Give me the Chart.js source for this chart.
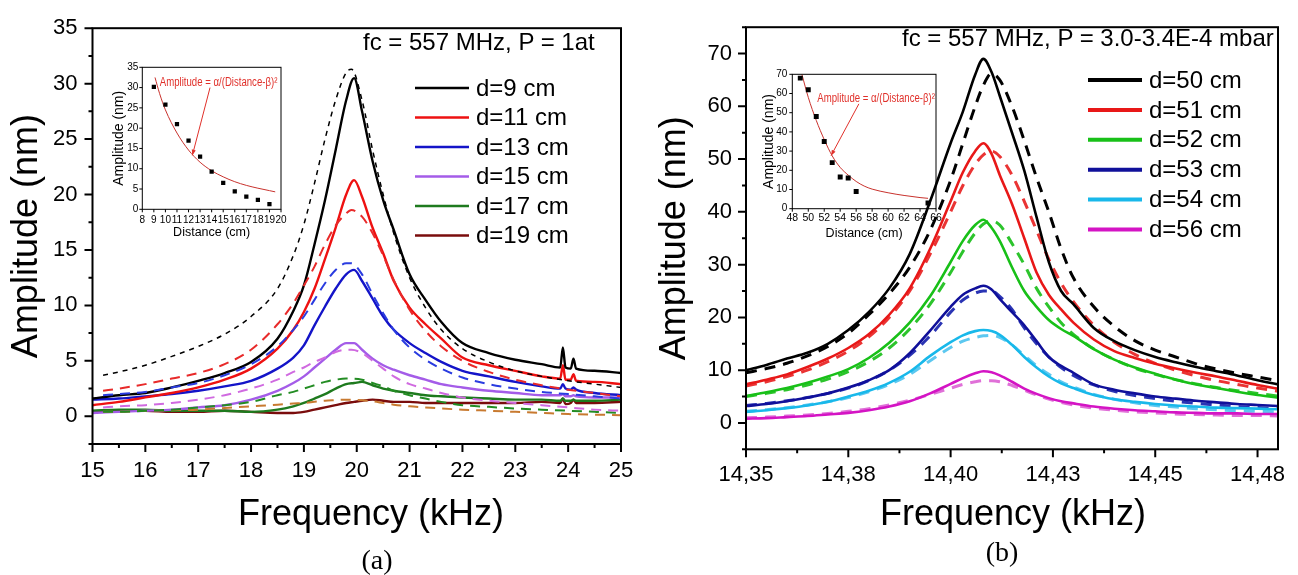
<!DOCTYPE html>
<html>
<head>
<meta charset="utf-8">
<script src="https://cdn.jsdelivr.net/npm/chart.js@4.4.1/dist/chart.umd.min.js"></script>
<style>
  html, body { margin: 0; padding: 0; background: #fff; }
  #wrap { position: relative; width: 1298px; height: 575px; overflow: hidden; font-family: 'Liberation Sans', Arial, sans-serif; }
  canvas { position: absolute; }
  .lbl { position: absolute; white-space: nowrap; color: #000; line-height: 1; }
</style>
</head>
<body>
<div id="wrap">
  <canvas id="mainA" width="650" height="575" style="left:0;top:0"></canvas>
  <canvas id="mainB" width="648" height="575" style="left:650px;top:0"></canvas>
  <canvas id="insetA" width="200" height="190" style="left:95px;top:55px"></canvas>
  <canvas id="insetB" width="205" height="185" style="left:745px;top:60px"></canvas>

  <div class="lbl" style="left:363px;top:42px;font-size:24px;transform:translateY(-50%)">fc = 557 MHz, P = 1at</div>
  <div class="lbl" style="left:902px;top:38px;font-size:24px;transform:translateY(-50%)">fc = 557 MHz, P = 3.0-3.4E-4 mbar</div>
  <div class="lbl" style="left:371px;top:513px;font-size:36px;transform:translate(-50%,-50%)">Frequency (kHz)</div>
  <div class="lbl" style="left:1013px;top:513px;font-size:36px;transform:translate(-50%,-50%)">Frequency (kHz)</div>
  <div class="lbl" style="left:377px;top:560px;font-size:28px;font-family:'Liberation Serif','Times New Roman',serif;transform:translate(-50%,-50%)">(a)</div>
  <div class="lbl" style="left:1002px;top:552px;font-size:28px;font-family:'Liberation Serif','Times New Roman',serif;transform:translate(-50%,-50%)">(b)</div>
</div>

<script>
// ---------- panel (a): fc = 557 MHz, P = 1 at ----------
var freqA = [15, 15.5, 16, 16.5, 17, 17.5, 18, 18.5, 18.8, 19.0, 19.2, 19.4, 19.6, 19.8, 19.95, 20.1, 20.3, 20.5, 20.7,
             21.0, 21.3, 21.6, 22, 22.5, 23, 23.5, 23.85, 23.9, 23.95, 24.05, 24.1, 24.15, 24.5, 25];
var ampA9  = [1.6, 1.9, 2.1, 2.6, 3.2, 3.9, 4.9, 7.0, 9.5, 11.8, 15.5, 19.5, 24.0, 28.5, 30.5, 27.5, 23.0, 19.5, 16.8,
              12.8, 10.5, 8.5, 6.6, 5.7, 5.1, 4.7, 4.4, 6.2, 4.4, 4.3, 5.2, 4.3, 4.1, 3.9];
var ampA11 = [1.0, 1.3, 1.7, 2.1, 2.6, 3.3, 4.3, 6.1, 7.8, 9.4, 11.5, 14.2, 17.0, 20.0, 21.3, 19.8, 17.0, 14.7, 12.2,
              9.8, 8.3, 7.0, 5.3, 4.6, 4.1, 3.6, 3.4, 4.6, 3.3, 3.3, 3.8, 3.2, 3.1, 2.9];
var ampA13 = [1.5, 1.6, 1.8, 2.0, 2.3, 2.7, 3.2, 4.3, 5.3, 6.4, 8.2, 9.9, 11.5, 12.8, 13.2, 12.2, 10.6, 9.0, 7.8,
              6.6, 5.7, 4.9, 4.1, 3.6, 3.1, 2.7, 2.5, 2.9, 2.5, 2.4, 2.6, 2.4, 2.1, 1.9];
var ampA15 = [0.3, 0.4, 0.5, 0.6, 0.8, 1.0, 1.5, 2.3, 3.0, 3.6, 4.4, 5.2, 6.0, 6.6, 6.6, 6.0, 5.2, 4.6, 4.2,
              3.7, 3.3, 2.9, 2.6, 2.3, 2.1, 1.9, 1.9, 2.0, 1.8, 1.8, 1.9, 1.8, 1.7, 1.7];
var ampA17 = [0.5, 0.6, 0.6, 0.5, 0.5, 0.5, 0.4, 0.6, 0.9, 1.2, 1.6, 2.0, 2.5, 2.9, 3.0, 3.1, 2.8, 2.5, 2.3,
              2.1, 1.9, 1.8, 1.7, 1.6, 1.5, 1.5, 1.4, 1.6, 1.4, 1.4, 1.5, 1.4, 1.4, 1.5];
var ampA19 = [0.4, 0.5, 0.5, 0.4, 0.4, 0.5, 0.4, 0.3, 0.3, 0.4, 0.6, 0.8, 1.0, 1.2, 1.3, 1.4, 1.5, 1.4, 1.3,
              1.3, 1.2, 1.2, 1.2, 1.2, 1.2, 1.3, 1.2, 1.6, 1.1, 1.2, 1.5, 1.2, 1.2, 1.3];

var fitFreqA = [15.2, 15.5, 16, 16.5, 17, 17.5, 18, 18.5, 18.8, 19.0, 19.2, 19.4, 19.6, 19.8, 19.9, 20.1, 20.3, 20.5,
                20.7, 21.0, 21.3, 21.6, 22, 22.5, 23, 23.5, 24, 24.5, 25];
var fitA9  = [3.7, 4.0, 4.6, 5.4, 6.3, 7.4, 9.0, 11.5, 14.5, 17.3, 21.0, 25.0, 28.5, 31.0, 31.3, 28.5, 24.0, 20.0,
              16.5, 12.5, 9.8, 7.8, 6.1, 4.9, 4.1, 3.6, 3.2, 2.9, 2.6];
var fitA11 = [2.3, 2.5, 2.9, 3.4, 3.9, 4.7, 6.0, 8.3, 10.2, 11.8, 13.5, 15.5, 17.2, 18.3, 18.6, 18.0, 16.5, 14.5,
              12.3, 9.6, 7.7, 6.3, 5.0, 4.0, 3.3, 2.8, 2.4, 2.1, 1.8];
var fitA13 = [1.9, 2.0, 2.2, 2.6, 3.0, 3.7, 4.7, 6.3, 7.8, 9.0, 10.5, 12.0, 13.2, 13.8, 13.8, 12.8, 11.0, 9.3,
              7.8, 6.2, 5.1, 4.3, 3.5, 2.9, 2.5, 2.2, 2.0, 1.8, 1.6];
var fitA15 = [0.8, 0.9, 1.0, 1.2, 1.5, 1.9, 2.5, 3.3, 4.0, 4.4, 4.9, 5.3, 5.8, 6.0, 6.0, 5.7, 5.0, 4.3,
              3.6, 2.9, 2.5, 2.1, 1.7, 1.4, 1.2, 1.0, 0.8, 0.6, 0.5];
var fitA17 = [0.4, 0.4, 0.5, 0.6, 0.8, 1.0, 1.3, 1.9, 2.2, 2.5, 2.8, 3.1, 3.3, 3.4, 3.4, 3.3, 3.0, 2.7,
              2.3, 1.9, 1.6, 1.3, 1.0, 0.85, 0.7, 0.6, 0.5, 0.4, 0.3];
var fitA19 = [0.4, 0.4, 0.5, 0.55, 0.6, 0.75, 0.9, 1.05, 1.15, 1.2, 1.3, 1.4, 1.45, 1.5, 1.5, 1.45, 1.35, 1.2,
              1.05, 0.9, 0.8, 0.7, 0.6, 0.5, 0.4, 0.3, 0.2, 0.15, 0.1];

var namesA = ['d=9 cm', 'd=11 cm', 'd=13 cm', 'd=15 cm', 'd=17 cm', 'd=19 cm'];

// inset (a): peak amplitude vs distance
var distA = [9, 10, 11, 12, 13, 14, 15, 16, 17, 18, 19];
var peakA = [30.2, 25.8, 21.0, 16.9, 13.0, 9.3, 6.5, 4.4, 3.1, 2.3, 1.3];
var fitDistA = [9.1, 9.5, 10, 11, 12, 13, 14, 15, 16, 17, 18, 19, 19.5];
var fitPeakA = [32.5, 28.5, 24.5, 18.8, 14.6, 11.6, 9.5, 8.0, 6.8, 5.9, 5.2, 4.6, 4.3];

// ---------- panel (b): fc = 557 MHz, P = 3.0-3.4E-4 mbar ----------
var freqB = [14.350, 14.355, 14.360, 14.365, 14.370, 14.375, 14.380, 14.385, 14.390, 14.395, 14.400, 14.403,
             14.406, 14.408, 14.410, 14.412, 14.415, 14.418, 14.421, 14.424, 14.427, 14.430, 14.435, 14.440,
             14.445, 14.450, 14.455, 14.460, 14.465, 14.470, 14.475, 14.480];
var ampB50 = [10.0, 11.0, 12.2, 13.3, 15.0, 17.6, 21.0, 25.5, 32.0, 42.0, 53.0, 59.0, 66.0, 69.0, 66.5, 62.0,
              55.0, 47.8, 39.0, 30.5, 25.0, 22.5, 18.0, 15.5, 13.8, 12.5, 11.5, 10.6, 9.8, 9.0, 8.1, 7.3];
var ampB51 = [7.3, 8.2, 9.2, 10.6, 12.2, 14.2, 16.8, 20.5, 25.5, 33.0, 42.0, 47.5, 51.5, 53.0, 51.0, 47.0,
              41.5, 35.0, 28.5, 24.3, 21.5, 19.0, 15.8, 13.6, 12.3, 11.2, 10.3, 9.5, 8.8, 8.0, 7.2, 6.5];
var ampB52 = [5.1, 5.8, 6.6, 7.6, 8.8, 10.2, 12.3, 15.2, 19.0, 24.0, 30.5, 34.5, 37.5, 38.5, 37.0, 34.5,
              29.5, 25.0, 22.0, 19.5, 17.8, 16.5, 14.0, 12.0, 10.5, 9.3, 8.2, 7.3, 6.6, 5.9, 5.3, 4.8];
var ampB53 = [3.2, 3.6, 4.1, 4.8, 5.6, 6.7, 8.1, 10.0, 13.2, 17.5, 22.0, 24.3, 25.5, 26.0, 25.3, 23.5,
              21.0, 18.5, 15.5, 12.5, 10.8, 9.5, 7.3, 6.3, 5.6, 5.0, 4.6, 4.2, 3.9, 3.6, 3.4, 3.2];
var ampB54 = [2.1, 2.4, 2.8, 3.3, 4.0, 5.0, 6.1, 7.6, 9.7, 12.7, 15.3, 16.6, 17.4, 17.6, 17.4, 16.7,
              14.8, 12.5, 10.5, 8.8, 7.5, 6.6, 5.3, 4.5, 4.0, 3.6, 3.3, 3.1, 2.9, 2.8, 2.7, 2.6];
var ampB56 = [0.8, 0.9, 1.1, 1.3, 1.6, 1.9, 2.4, 3.1, 4.1, 5.6, 7.4, 8.5, 9.4, 9.8, 9.6, 9.0,
              7.8, 6.5, 5.5, 4.7, 4.1, 3.7, 3.1, 2.7, 2.4, 2.2, 2.0, 1.9, 1.8, 1.8, 1.7, 1.7];

var fitB50 = [9.5, 10.3, 11.3, 12.7, 14.5, 17.0, 20.5, 24.5, 29.5, 36.5, 46.0, 53.0, 60.0, 64.0, 66.2, 65.0,
              60.0, 53.5, 46.5, 40.0, 33.0, 27.5, 22.0, 18.3, 15.6, 13.8, 12.5, 11.2, 10.2, 9.4, 8.7, 8.0];
var fitB51 = [7.0, 7.8, 8.8, 10.0, 11.6, 13.6, 16.3, 20.0, 25.0, 32.0, 40.0, 45.0, 49.0, 50.8, 51.5, 50.5,
              47.0, 42.0, 36.5, 31.0, 26.5, 23.0, 18.5, 15.3, 13.0, 11.3, 10.0, 8.9, 8.0, 7.3, 6.6, 6.0];
var fitB52 = [5.0, 5.6, 6.3, 7.2, 8.3, 9.7, 11.6, 14.2, 17.8, 22.5, 28.5, 32.5, 36.0, 37.7, 38.3, 37.5,
              34.0, 30.0, 25.5, 22.0, 19.0, 16.8, 14.0, 12.0, 10.4, 9.2, 8.2, 7.4, 6.7, 6.1, 5.6, 5.1];
var fitB53 = [3.3, 3.7, 4.2, 4.8, 5.6, 6.6, 8.0, 10.0, 12.8, 16.5, 21.0, 23.3, 24.6, 25.0, 25.0, 24.0,
              21.5, 18.0, 15.0, 12.5, 10.5, 9.0, 7.2, 6.0, 5.2, 4.6, 4.1, 3.7, 3.4, 3.1, 2.9, 2.7];
var fitB54 = [2.2, 2.5, 2.9, 3.4, 4.0, 4.8, 5.9, 7.3, 9.2, 11.8, 14.3, 15.5, 16.2, 16.5, 16.6, 16.2,
              14.8, 12.8, 10.8, 9.2, 7.8, 6.8, 5.4, 4.5, 3.8, 3.3, 3.0, 2.7, 2.5, 2.3, 2.2, 2.1];
var fitB56 = [1.0, 1.1, 1.3, 1.5, 1.8, 2.2, 2.7, 3.4, 4.3, 5.4, 6.6, 7.3, 7.8, 8.0, 8.0, 7.8,
              7.1, 6.2, 5.3, 4.5, 3.9, 3.4, 2.8, 2.4, 2.1, 1.9, 1.7, 1.6, 1.5, 1.4, 1.4, 1.3];

var namesB = ['d=50 cm', 'd=51 cm', 'd=52 cm', 'd=53 cm', 'd=54 cm', 'd=56 cm'];
var tickLabelsB = ['14,35', '14,38', '14,40', '14,43', '14,45', '14,48'];

// inset (b)
var distB = [49, 50, 51, 52, 53, 54, 55, 56, 65];
var peakB = [68, 62, 48, 35, 24, 16.5, 16, 9, 3];
var fitDistB = [49.2, 50, 51, 52, 53, 54, 55, 56, 57, 58, 60, 62, 64, 65];
var fitPeakB = [70, 58, 46, 36, 27.5, 21.5, 17.5, 14.2, 11.8, 10.2, 8.3, 6.9, 5.8, 5.4];

var fitLabel = 'Amplitude = \u03b1/(Distance-\u03b2)\u00b2';

// ---------- helpers ----------
Chart.defaults.font.family = "'Liberation Sans', Arial, sans-serif";
Chart.defaults.color = '#000';

function pts(xs, ys) {
    return xs.map(function(x, i) { return {x: x, y: ys[i]}; });
}

function line(label, xs, ys, color, width, dash, legend) {
    return {
        label: label,
        data: pts(xs, ys),
        borderColor: color,
        borderWidth: width,
        borderDash: dash || [],
        pointRadius: 0,
        fill: false,
        cubicInterpolationMode: 'monotone',
        inLegend: !!legend
    };
}

// box around the plot + outward tick marks (short ones where the label is empty)
var frameTicks = {
    id: 'frameTicks',
    afterDraw: function(chart, args, o) {
        var ctx = chart.ctx, a = chart.chartArea;
        var xs = chart.scales.x, ys = chart.scales.y;
        ctx.save();
        ctx.strokeStyle = '#000';
        ctx.lineWidth = o.lineWidth;
        ctx.strokeRect(a.left, a.top, a.right - a.left, a.bottom - a.top);
        ctx.beginPath();
        xs.ticks.forEach(function(t) {
            var px = xs.getPixelForValue(t.value);
            var len = t.label === '' ? o.minor : o.major;
            ctx.moveTo(px, a.bottom);
            ctx.lineTo(px, a.bottom + len);
        });
        ys.ticks.forEach(function(t) {
            var py = ys.getPixelForValue(t.value);
            var len = t.label === '' ? o.minor : o.major;
            ctx.moveTo(a.left, py);
            ctx.lineTo(a.left - len, py);
        });
        ctx.stroke();
        ctx.restore();
    }
};

// legend drawn inside the plot from the datasets marked inLegend
var insideLegend = {
    id: 'insideLegend',
    afterDraw: function(chart, args, o) {
        var ctx = chart.ctx;
        var items = chart.data.datasets.filter(function(d) { return d.inLegend; });
        ctx.save();
        ctx.font = o.font;
        ctx.textBaseline = 'middle';
        ctx.fillStyle = '#000';
        items.forEach(function(d, i) {
            var y = o.y0 + i * o.dy;
            ctx.strokeStyle = d.borderColor;
            ctx.lineWidth = o.lineWidth;
            ctx.beginPath();
            ctx.moveTo(o.x0, y);
            ctx.lineTo(o.x1, y);
            ctx.stroke();
            ctx.fillText(d.label, o.tx, y + 1);
        });
        ctx.restore();
    }
};

// red fit formula with an arrow pointing at the fitted curve (data coordinates)
var fitNote = {
    id: 'fitNote',
    afterDraw: function(chart, args, o) {
        var ctx = chart.ctx, xs = chart.scales.x, ys = chart.scales.y;
        var fx = xs.getPixelForValue(o.from[0]), fy = ys.getPixelForValue(o.from[1]);
        var tx = xs.getPixelForValue(o.to[0]), ty = ys.getPixelForValue(o.to[1]);
        ctx.save();
        ctx.fillStyle = o.color;
        ctx.strokeStyle = o.color;
        ctx.font = o.font;
        ctx.textAlign = 'center';
        ctx.textBaseline = 'middle';
        // squeeze the text a bit, the original uses a condensed face
        ctx.save();
        ctx.translate(xs.getPixelForValue(o.at[0]), ys.getPixelForValue(o.at[1]));
        ctx.scale(0.8, 1);
        ctx.fillText(o.text, 0, 0);
        ctx.restore();
        ctx.lineWidth = 1;
        ctx.beginPath();
        ctx.moveTo(fx, fy);
        ctx.lineTo(tx, ty);
        ctx.stroke();
        var ang = Math.atan2(ty - fy, tx - fx);
        ctx.beginPath();
        ctx.moveTo(tx, ty);
        ctx.lineTo(tx - 6 * Math.cos(ang - 0.35), ty - 6 * Math.sin(ang - 0.35));
        ctx.lineTo(tx - 6 * Math.cos(ang + 0.35), ty - 6 * Math.sin(ang + 0.35));
        ctx.closePath();
        ctx.fill();
        ctx.restore();
    }
};

function mainOptions(o) {
    return {
        responsive: false,
        animation: false,
        layout: { padding: { top: o.top, right: o.right, bottom: 0, left: 0 } },
        plugins: {
            legend: { display: false },
            tooltip: { enabled: false },
            frameTicks: { lineWidth: 2, major: 8, minor: 4 },
            insideLegend: o.legend
        },
        scales: {
            x: {
                type: 'linear', min: o.xmin, max: o.xmax,
                grid: { display: false, drawTicks: false },
                border: { display: false },
                ticks: { stepSize: o.xstep, autoSkip: false, maxRotation: 0, includeBounds: false,
                         font: { size: 22 }, padding: o.xpad, callback: o.xlabel },
                afterFit: function(s) { s.height = o.xh; }
            },
            y: {
                type: 'linear', min: o.ymin, max: o.ymax,
                grid: { display: false, drawTicks: false },
                border: { display: false },
                ticks: { stepSize: o.ystep, autoSkip: false, font: { size: 22 }, padding: o.ypad, callback: o.ylabel },
                title: { display: true, text: 'Amplitude (nm)', font: { size: 36 }, padding: { top: o.ytitle, bottom: 0 } },
                afterFit: function(s) { s.width = o.yw; }
            }
        }
    };
}

function insetOptions(o) {
    return {
        responsive: false,
        animation: false,
        layout: { padding: { top: o.top, right: o.right, bottom: 0, left: 0 } },
        plugins: {
            legend: { display: false },
            tooltip: { enabled: false },
            frameTicks: { lineWidth: 1, major: 3, minor: 3 },
            fitNote: o.note
        },
        scales: {
            x: {
                type: 'linear', min: o.xmin, max: o.xmax,
                grid: { display: false, drawTicks: false },
                border: { display: false },
                ticks: { stepSize: o.xstep, autoSkip: false, maxRotation: 0, font: { size: o.xfont }, padding: o.xpad },
                title: { display: true, text: 'Distance (cm)', font: { size: 12.5 }, padding: { top: 0, bottom: o.xtitle } },
                afterFit: function(s) { s.height = o.xh; }
            },
            y: {
                type: 'linear', min: o.ymin, max: o.ymax,
                grid: { display: false, drawTicks: false },
                border: { display: false },
                ticks: { stepSize: o.ystep, autoSkip: false, font: { size: 10 }, padding: o.ypad },
                title: { display: true, text: 'Amplitude (nm)', font: { size: 14 }, padding: { top: o.ytitle, bottom: 0 } },
                afterFit: function(s) { s.width = o.yw; }
            }
        }
    };
}

// ---------- chart (a) ----------
new Chart(document.getElementById('mainA'), {
    type: 'line',
    data: {
        datasets: [
            line('fit 9', fitFreqA, fitA9, '#000000', 1.5, [5, 5]),
            line('fit 11', fitFreqA, fitA11, '#e82a2a', 2, [10, 7]),
            line('fit 13', fitFreqA, fitA13, '#2a3ce0', 2, [10, 7]),
            line('fit 15', fitFreqA, fitA15, '#d06ae0', 2, [10, 7]),
            line('fit 17', fitFreqA, fitA17, '#238c23', 2, [10, 7]),
            line('fit 19', fitFreqA, fitA19, '#c87a30', 2, [10, 7]),
            line(namesA[0], freqA, ampA9, '#000000', 2.4, null, true),
            line(namesA[1], freqA, ampA11, '#ee1111', 2.4, null, true),
            line(namesA[2], freqA, ampA13, '#1414c8', 2.4, null, true),
            line(namesA[3], freqA, ampA15, '#a45ce8', 2.4, null, true),
            line(namesA[4], freqA, ampA17, '#1e7a1e', 2.4, null, true),
            line(namesA[5], freqA, ampA19, '#7a0c0c', 2.4, null, true)
        ]
    },
    options: mainOptions({
        top: 20, right: 29, xh: 131, yw: 92.5, ytitle: 5.4, xpad: 14, ypad: 15,
        xmin: 15, xmax: 25, xstep: 0.5, ymin: -2.5, ymax: 35, ystep: 2.5,
        xlabel: function(v) { return Number.isInteger(v) ? String(v) : ''; },
        ylabel: function(v) { return (v >= 0 && v % 5 === 0) ? String(v) : ''; },
        legend: { font: "24px 'Liberation Sans', Arial, sans-serif", x0: 415, x1: 469, tx: 476, y0: 88, dy: 29.5, lineWidth: 2.5 }
    }),
    plugins: [frameTicks, insideLegend]
});

// ---------- chart (b) ----------
new Chart(document.getElementById('mainB'), {
    type: 'line',
    data: {
        datasets: [
            line(namesB[0], freqB, ampB50, '#000000', 2.6, null, true),
            line(namesB[1], freqB, ampB51, '#e81818', 2.6, null, true),
            line(namesB[2], freqB, ampB52, '#18c018', 2.6, null, true),
            line(namesB[3], freqB, ampB53, '#10109a', 2.6, null, true),
            line(namesB[4], freqB, ampB54, '#18b8ea', 2.6, null, true),
            line(namesB[5], freqB, ampB56, '#d414c4', 2.6, null, true),
            line('fit 50', freqB, fitB50, '#000000', 3, [11, 8]),
            line('fit 51', freqB, fitB51, '#ea3434', 3, [11, 8]),
            line('fit 52', freqB, fitB52, '#2cc42c', 3, [11, 8]),
            line('fit 53', freqB, fitB53, '#2a34b4', 3, [11, 8]),
            line('fit 54', freqB, fitB54, '#5cc8f0', 3, [11, 8]),
            line('fit 56', freqB, fitB56, '#e070d8', 3, [11, 8])
        ]
    },
    options: mainOptions({
        top: 20.7, right: 20, xh: 125.7, yw: 96, ytitle: 3.4, xpad: 12, ypad: 14,
        xmin: 14.35, xmax: 14.48, xstep: 0.0125, ymin: -5, ymax: 75, ystep: 5,
        xlabel: function(v) {
            var k = Math.round((v - 14.35) / 0.0125);
            return k % 2 === 0 && tickLabelsB[k / 2] ? tickLabelsB[k / 2] : '';
        },
        ylabel: function(v) { return (v >= 0 && v % 10 === 0) ? String(v) : ''; },
        legend: { font: "24px 'Liberation Sans', Arial, sans-serif", x0: 438, x1: 492, tx: 499, y0: 80, dy: 29.9, lineWidth: 4 }
    }),
    plugins: [frameTicks, insideLegend]
});

// ---------- insets ----------
function insetData(dx, dy, fx, fy, r) {
    return {
        datasets: [
            { type: 'scatter', label: 'peak', data: pts(dx, dy), pointStyle: 'rect', pointRadius: r,
              backgroundColor: '#000', borderColor: '#000', borderWidth: 0 },
            { type: 'line', label: 'fit', data: pts(fx, fy), borderColor: '#c8322d', borderWidth: 1,
              pointRadius: 0, fill: false, cubicInterpolationMode: 'monotone' }
        ]
    };
}

new Chart(document.getElementById('insetA'), {
    type: 'scatter',
    data: insetData(distA, peakA, fitDistA, fitPeakA, 3),
    options: insetOptions({
        top: 12.3, right: 14, xh: 35.7, yw: 47.3, ytitle: 16, xtitle: 4.6, xpad: 4.5, ypad: 4, xfont: 10,
        xmin: 8, xmax: 20, xstep: 1, ymin: 0, ymax: 35, ystep: 5,
        note: { text: fitLabel, at: [14.6, 31.2], from: [13.86, 30.0], to: [12.33, 13.3],
                color: '#e0302a', font: "12px 'Liberation Sans', Arial, sans-serif" }
    }),
    plugins: [frameTicks, fitNote]
});

new Chart(document.getElementById('insetB'), {
    type: 'scatter',
    data: insetData(distB, peakB, fitDistB, fitPeakB, 3.5),
    options: insetOptions({
        top: 14.3, right: 14, xh: 36.3, yw: 47.3, ytitle: 16.2, xtitle: 3.6, xpad: 3, ypad: 5, xfont: 10.5,
        xmin: 48, xmax: 66, xstep: 2, ymin: 0, ymax: 70, ystep: 10,
        note: { text: fitLabel, at: [58.5, 57.5], from: [56.34, 54.6], to: [52.85, 27.6],
                color: '#e0302a', font: "12px 'Liberation Sans', Arial, sans-serif" }
    }),
    plugins: [frameTicks, fitNote]
});
</script>
</body>
</html>
